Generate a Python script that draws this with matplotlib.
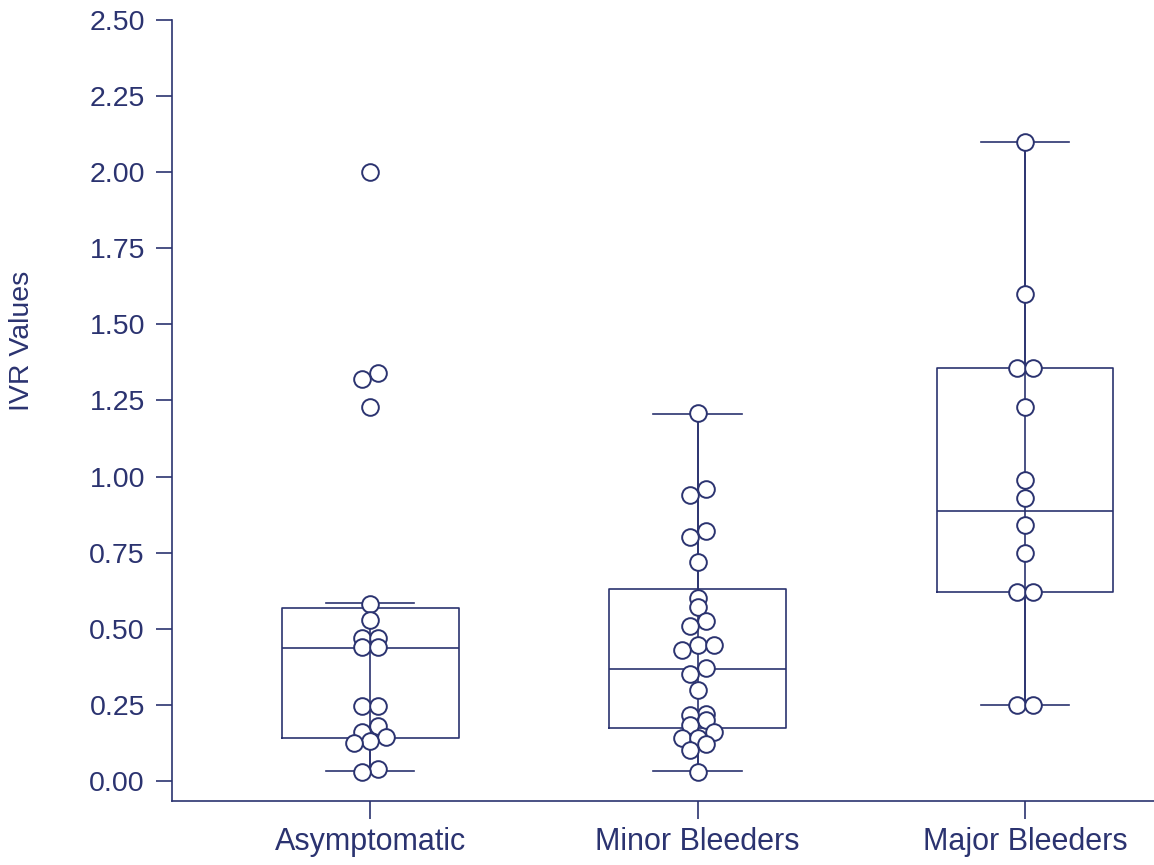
# ============================================================
# IVR values by bleeding group: box plot + scatter of points
# ============================================================

import numpy as np
import matplotlib
matplotlib.use("Agg")
import matplotlib.pyplot as plt


# =========================
# 1) Data (read off the reference)
# =========================
groups = ["Asymptomatic", "Minor Bleeders", "Major Bleeders"]

asymptomatic = [2.00, 1.34, 1.32, 1.23, 0.58, 0.53, 0.47, 0.47, 0.44, 0.44,
                0.245, 0.245, 0.18, 0.16, 0.145, 0.13, 0.125, 0.04, 0.03]
minor = [1.21, 0.96, 0.94, 0.82, 0.80, 0.72, 0.60, 0.57, 0.525, 0.51,
         0.445, 0.445, 0.43, 0.37, 0.35, 0.30, 0.22, 0.215, 0.20, 0.185,
         0.16, 0.14, 0.14, 0.12, 0.10, 0.03]
major = [2.10, 1.60, 1.355, 1.355, 1.23, 0.99, 0.93, 0.84, 0.75, 0.62,
         0.62, 0.25, 0.25]

# box summaries as drawn in the figure
q1 = [0.141, 0.175, 0.62]
median = [0.436, 0.367, 0.887]
q3 = [0.568, 0.63, 1.355]
whisker_lo = [0.033, 0.032, 0.25]
whisker_hi = [0.584, 1.207, 2.10]

yticks = [0.00, 0.25, 0.50, 0.75, 1.00, 1.25, 1.50, 1.75, 2.00, 2.25, 2.50]


# =========================
# 2) Helpers
# =========================
def row_offsets(values, tol=0.02, step=0.049):
    """
    Prism-like spreading: near-equal values form a row and are
    placed side by side, centred on the group position.
    """
    vals = np.asarray(values, dtype=float)
    order = np.argsort(vals, kind="stable")
    offsets = np.zeros(len(vals))
    row = [order[0]]
    for idx in order[1:]:
        if vals[idx] - vals[row[0]] <= tol + 1e-9:
            row.append(idx)
        else:
            n = len(row)
            for k, j in enumerate(row):
                offsets[j] = (k - (n - 1) / 2) * step
            row = [idx]
    n = len(row)
    for k, j in enumerate(row):
        offsets[j] = (k - (n - 1) / 2) * step
    return offsets


# =========================
# 3) Style
# =========================
NAVY = "#2b3370"
plt.rcParams["font.family"] = ["Liberation Sans", "DejaVu Sans"]

fig = plt.figure(figsize=(11.54, 8.65), dpi=100)
ax = fig.add_axes([172 / 1154, 64 / 865, 982 / 1154, 781 / 865])

positions = np.arange(len(groups))


# =========================
# 4) Boxes
# =========================
stats = []
for i, name in enumerate(groups):
    stats.append({"label": name, "q1": q1[i], "med": median[i], "q3": q3[i],
                  "whislo": whisker_lo[i], "whishi": whisker_hi[i], "fliers": []})

line = {"color": NAVY, "linewidth": 1.2}
ax.bxp(stats, positions=positions, widths=0.54, capwidths=0.27,
       showfliers=False, boxprops=line, whiskerprops=line, capprops=line,
       medianprops=line, manage_ticks=False, zorder=2)
# whisker line runs through the box
ax.vlines(positions, whisker_lo, whisker_hi, color=NAVY, linewidth=1.2, zorder=2)


# =========================
# 5) Points
# =========================
for pos, values in zip(positions, [asymptomatic, minor, major]):
    x = pos + row_offsets(values)
    ax.scatter(x, values, s=12 ** 2, facecolor="white", edgecolor=NAVY,
               linewidth=1.4, zorder=3)


# =========================
# 6) Axes
# =========================
ax.set_xlim(-0.605, 2.394)
ax.set_ylim(-0.066, 2.50)
ax.set_yticks(yticks)
ax.set_yticklabels([f"{v:.2f}" for v in yticks])
ax.set_xticks(positions)
ax.set_xticklabels(groups)
ax.set_ylabel("IVR Values", fontsize=20.5, color=NAVY)
ax.yaxis.set_label_coords(-0.1395, 0.589)

ax.spines["top"].set_visible(False)
ax.spines["right"].set_visible(False)
for side in ["left", "bottom"]:
    ax.spines[side].set_color(NAVY)
    ax.spines[side].set_linewidth(1.2)

ax.tick_params(axis="y", length=11.5, width=1.2, color=NAVY,
               labelcolor=NAVY, labelsize=20.5, pad=8)
ax.tick_params(axis="x", length=13, width=1.2, color=NAVY,
               labelcolor=NAVY, labelsize=22, pad=6)

fig.savefig("out.png", dpi=100)
